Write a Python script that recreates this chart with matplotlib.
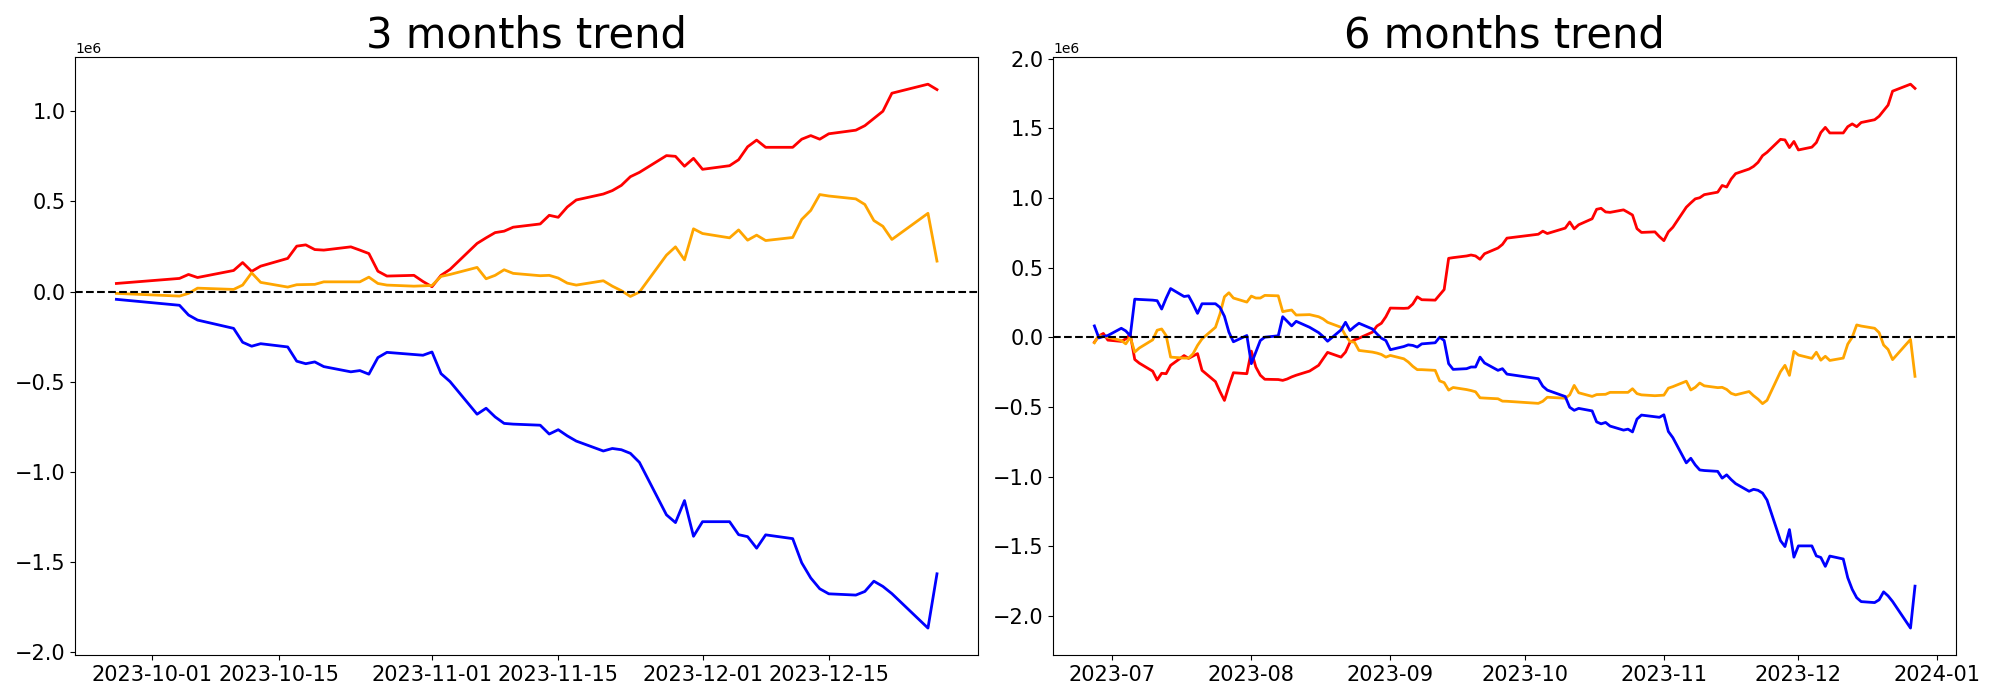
import pandas as pd
import matplotlib
matplotlib.use('Agg')
import matplotlib.pyplot as plt

# Korean market trading days (holidays removed)
kr_holidays = ['2023-08-15', '2023-09-28', '2023-09-29', '2023-10-02',
               '2023-10-03', '2023-10-09', '2023-12-25']
dates_6m = pd.bdate_range('2023-06-27', '2023-12-27', freq='C', holidays=kr_holidays)
dates_3m = dates_6m[dates_6m >= '2023-09-27']

# ---- 3 months (cumulative, 1e6) ----
red_3m = [0.045,
          0.073, 0.095, 0.078,
          0.117, 0.161, 0.112, 0.141,
          0.184, 0.252, 0.259, 0.233, 0.230,
          0.248, 0.230, 0.211, 0.113, 0.086,
          0.090, 0.056,
          0.027, 0.090, 0.123,
          0.267, 0.298, 0.327, 0.335, 0.357,
          0.375, 0.423, 0.412, 0.469, 0.508,
          0.541, 0.560, 0.589, 0.637, 0.661,
          0.754, 0.750, 0.695, 0.739,
          0.678,
          0.698, 0.731, 0.803, 0.840, 0.800,
          0.800, 0.845, 0.865, 0.845, 0.875,
          0.895, 0.920, 0.960, 1.000, 1.100,
          1.150, 1.120]
orange_3m = [-0.010,
             -0.025, -0.010, 0.019,
             0.012, 0.036, 0.104, 0.051,
             0.025, 0.038, 0.039, 0.040, 0.054,
             0.054, 0.054, 0.080, 0.045, 0.036,
             0.030, 0.032,
             0.034, 0.084, 0.095,
             0.134, 0.071, 0.090, 0.121, 0.101,
             0.088, 0.090, 0.075, 0.047, 0.036,
             0.060, 0.030, 0.005, -0.027, -0.003,
             0.202, 0.248, 0.176, 0.348,
             0.322,
             0.298, 0.342, 0.285, 0.313, 0.283,
             0.300, 0.400, 0.450, 0.538, 0.530,
             0.514, 0.483, 0.394, 0.362, 0.289,
             0.434, 0.169]
blue_3m = [-0.043,
           -0.076, -0.130, -0.158,
           -0.204, -0.281, -0.303, -0.289,
           -0.307, -0.386, -0.400, -0.390, -0.416,
           -0.445, -0.438, -0.458, -0.366, -0.337,
           -0.349, -0.353,
           -0.335, -0.455, -0.499,
           -0.680, -0.647, -0.695, -0.731, -0.735,
           -0.741, -0.790, -0.766, -0.800, -0.829,
           -0.884, -0.870, -0.877, -0.897, -0.947,
           -1.238, -1.281, -1.159, -1.357,
           -1.276,
           -1.276, -1.348, -1.359, -1.423, -1.349,
           -1.370, -1.504, -1.588, -1.648, -1.676,
           -1.683, -1.663, -1.606, -1.635, -1.675,
           -1.866, -1.565]

# ---- 6 months (cumulative, 1e6) ----
red_6m = [-0.036, 0.009, 0.027, -0.021,
          -0.030, -0.012, 0.020, -0.160, -0.186,
          -0.244, -0.307, -0.259, -0.262, -0.202,
          -0.132, -0.152, -0.135, -0.118, -0.238,
          -0.319, -0.390, -0.454, -0.350, -0.255,
          -0.262,
          -0.100, -0.214, -0.273, -0.302,
          -0.304, -0.310, -0.300, -0.285, -0.273,
          -0.243, -0.202, -0.155, -0.109,
          -0.143, -0.107, -0.036, -0.019, -0.007,
          0.036, 0.080, 0.100, 0.147,
          0.209,
          0.207, 0.209, 0.238, 0.290, 0.269,
          0.266, 0.304, 0.342, 0.566, 0.571,
          0.583, 0.590, 0.583, 0.559, 0.599,
          0.640, 0.666,
          0.711,
          0.739, 0.761, 0.744,
          0.783, 0.827, 0.778, 0.807,
          0.850, 0.918, 0.925, 0.899, 0.896,
          0.914, 0.896, 0.877, 0.779, 0.752,
          0.756, 0.722,
          0.693, 0.756, 0.789,
          0.933, 0.964, 0.993, 1.001, 1.023,
          1.041, 1.089, 1.078, 1.135, 1.174,
          1.207, 1.226, 1.255, 1.303, 1.327,
          1.420, 1.416, 1.361, 1.405,
          1.344,
          1.364, 1.397, 1.469, 1.506, 1.466,
          1.466, 1.511, 1.531, 1.511, 1.541,
          1.561, 1.586, 1.626, 1.666, 1.766,
          1.816, 1.786]
orange_6m = [-0.040, 0.012, 0.005, 0.000,
             -0.024, -0.048, 0.000, -0.107, -0.078,
             -0.019, 0.050, 0.059, 0.012, -0.143,
             -0.150, -0.150, -0.119, -0.059, -0.012,
             0.071, 0.166, 0.290, 0.319, 0.281,
             0.252,
             0.295, 0.281, 0.281, 0.300,
             0.297, 0.183, 0.190, 0.195, 0.159,
             0.162, 0.147, 0.131, 0.107,
             0.071, 0.012, -0.031, -0.036, -0.095,
             -0.107, -0.114, -0.124, -0.143,
             -0.131,
             -0.155, -0.178, -0.209, -0.233, -0.233,
             -0.238, -0.314, -0.326, -0.380, -0.361,
             -0.376, -0.383, -0.392, -0.435, -0.437,
             -0.442, -0.459,
             -0.460,
             -0.475, -0.460, -0.431,
             -0.438, -0.414, -0.346, -0.399,
             -0.425, -0.412, -0.411, -0.410, -0.396,
             -0.396, -0.396, -0.370, -0.405, -0.414,
             -0.420, -0.418,
             -0.416, -0.366, -0.355,
             -0.316, -0.379, -0.360, -0.329, -0.349,
             -0.362, -0.360, -0.375, -0.403, -0.414,
             -0.390, -0.420, -0.445, -0.477, -0.453,
             -0.248, -0.202, -0.274, -0.102,
             -0.128,
             -0.152, -0.108, -0.165, -0.137, -0.167,
             -0.150, -0.050, 0.000, 0.088, 0.080,
             0.064, 0.033, -0.056, -0.088, -0.161,
             -0.016, -0.281]
blue_6m = [0.081, -0.005, 0.005, 0.012,
           0.064, 0.045, 0.010, 0.273, 0.271,
           0.266, 0.262, 0.202, 0.280, 0.349,
           0.292, 0.297, 0.238, 0.171, 0.240,
           0.240, 0.214, 0.150, 0.036, -0.033,
           0.012,
           -0.190, -0.107, -0.024, 0.000,
           0.010, 0.147, 0.114, 0.081, 0.114,
           0.071, 0.033, 0.005, -0.029,
           0.052, 0.107, 0.048, 0.076, 0.100,
           0.059, 0.024, -0.007, -0.024,
           -0.090,
           -0.067, -0.055, -0.059, -0.071, -0.048,
           -0.040, 0.000, -0.024, -0.190, -0.231,
           -0.226, -0.214, -0.214, -0.143, -0.185,
           -0.238, -0.226,
           -0.265,
           -0.298, -0.352, -0.380,
           -0.426, -0.503, -0.525, -0.511,
           -0.529, -0.608, -0.622, -0.612, -0.638,
           -0.667, -0.660, -0.680, -0.588, -0.559,
           -0.571, -0.575,
           -0.557, -0.677, -0.721,
           -0.902, -0.869, -0.917, -0.953, -0.957,
           -0.963, -1.012, -0.988, -1.022, -1.051,
           -1.106, -1.092, -1.099, -1.119, -1.169,
           -1.460, -1.503, -1.381, -1.579,
           -1.498,
           -1.498, -1.570, -1.581, -1.645, -1.571,
           -1.592, -1.726, -1.810, -1.870, -1.898,
           -1.905, -1.885, -1.828, -1.857, -1.897,
           -2.088, -1.787]

scale = 1e6

fig, axes = plt.subplots(1, 2, figsize=(20, 7))

panels = [
    (axes[0], dates_3m, red_3m, orange_3m, blue_3m, '3 months trend'),
    (axes[1], dates_6m, red_6m, orange_6m, blue_6m, '6 months trend'),
]

for ax, d, r, o, b, title in panels:
    ax.plot(d, [v * scale for v in r], color='red', linewidth=2)
    ax.plot(d, [v * scale for v in o], color='orange', linewidth=2)
    ax.plot(d, [v * scale for v in b], color='blue', linewidth=2)
    ax.axhline(0, color='black', linestyle='--', linewidth=1.5)
    ax.set_title(title, fontsize=30)
    ax.tick_params(axis='both', labelsize=15)

plt.tight_layout()
plt.savefig('out.png', dpi=100)
